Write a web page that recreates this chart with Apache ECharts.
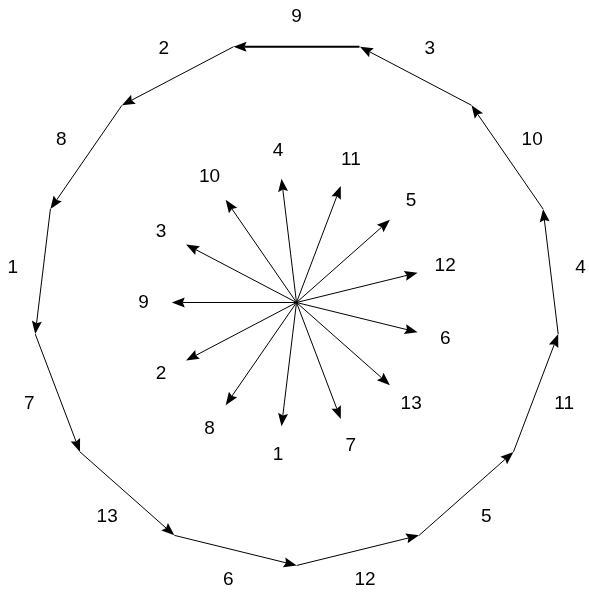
<!DOCTYPE html>
<html>
<head>
<meta charset="utf-8">
<script src="https://cdn.jsdelivr.net/npm/echarts@6/dist/echarts.min.js"></script>
<style>
html,body{margin:0;padding:0;background:#fff;}
#chart{width:589px;height:593px;}
</style>
</head>
<body>
<div id="chart"></div>
<script>
// ---- data ----
// slot numbers and the direction of each slot vector (degrees, counter-clockwise from +x)
var slotNames  = ['1','2','3','4','5','6','7','8','9','10','11','12','13'];
var slotAngles = [-96.9, -152.3, 152.3, 96.9, 41.5, -13.8, -69.2, -124.6, 180, 124.6, 69.2, 13.8, -41.5];
var starLength = 0.99;            // length of each vector (units)
// order in which the vectors are chained to form the outer polygon
var polygonOrder = ['9','2','8','1','7','13','6','12','5','11','4','10','3'];
var polygonStart = [0.50, 2.03]; // top-right vertex of the polygon (units)
var edgeLength = 1.0;

// ---- layout constants ----
var W = 589, H = 593;
var CX = 296.5, CY = 302.5;   // pixel position of origin
var PX = 126;                 // pixels per unit
var starLabelR = 1.215;       // radial distance of star labels (units)
var edgeLabelOff = 0.24;      // outward offset of polygon labels (units)
var FONT = '19px "Liberation Sans", Arial, sans-serif';

function dir(name) {
  var a = slotAngles[slotNames.indexOf(name)] * Math.PI / 180;
  return [Math.cos(a), Math.sin(a)];
}

// star vectors
var starArrows = slotNames.map(function (n) {
  var d = dir(n);
  return { value: [0, 0, d[0] * starLength, d[1] * starLength], width: 1 };
});
var starLabels = slotNames.map(function (n) {
  var d = dir(n);
  return { value: [d[0] * starLabelR, d[1] * starLabelR], text: n };
});

// polygon edges
var polyArrows = [], polyLabels = [];
var p = polygonStart.slice();
polygonOrder.forEach(function (n) {
  var d = dir(n);
  var q = [p[0] + d[0] * edgeLength, p[1] + d[1] * edgeLength];
  polyArrows.push({ value: [p[0], p[1], q[0], q[1]], width: n === '9' ? 2 : 1 });
  var mx = (p[0] + q[0]) / 2, my = (p[1] + q[1]) / 2;
  // outward normal (polygon traversed counter-clockwise)
  polyLabels.push({ value: [mx + d[1] * edgeLabelOff, my - d[0] * edgeLabelOff], text: n });
  p = q;
});

function arrowRender(params, api) {
  var a = api.coord([api.value(0), api.value(1)]);
  var b = api.coord([api.value(2), api.value(3)]);
  var item = params.dataIndex;
  var lw = this_widths[params.seriesIndex][item];
  var dx = b[0] - a[0], dy = b[1] - a[1];
  var len = Math.sqrt(dx * dx + dy * dy);
  var ux = dx / len, uy = dy / len;
  var hl = 13, hw = 5, notch = 2;
  var bx = b[0] - ux * hl, by = b[1] - uy * hl;
  var nx = -uy, ny = ux;
  var lineEnd = [b[0] - ux * (hl - notch), b[1] - uy * (hl - notch)];
  return {
    type: 'group',
    children: [
      { type: 'line', shape: { x1: a[0], y1: a[1], x2: lineEnd[0], y2: lineEnd[1] },
        style: { stroke: '#000', lineWidth: lw } },
      { type: 'polygon', shape: { points: [
          [b[0], b[1]],
          [bx + nx * hw, by + ny * hw],
          [b[0] - ux * (hl - notch), b[1] - uy * (hl - notch)],
          [bx - nx * hw, by - ny * hw]
        ] }, style: { fill: '#000' } }
    ]
  };
}
var this_widths = [
  starArrows.map(function (d) { return d.width; }),
  polyArrows.map(function (d) { return d.width; })
];

function labelRender(labels) {
  return function (params, api) {
    var c = api.coord([api.value(0), api.value(1)]);
    return { type: 'text', style: { text: labels[params.dataIndex].text, x: c[0], y: c[1],
      align: 'center', verticalAlign: 'middle', font: FONT, fill: '#000' } };
  };
}

var chart = echarts.init(document.getElementById('chart'), null, { renderer: 'canvas' });
chart.setOption({
  backgroundColor: '#fff',
  animation: false,
  grid: { left: 0, right: 0, top: 0, bottom: 0 },
  xAxis: { type: 'value', min: -CX / PX, max: (W - CX) / PX, show: false },
  yAxis: { type: 'value', min: -(H - CY) / PX, max: CY / PX, show: false },
  series: [
    { type: 'custom', renderItem: arrowRender, data: starArrows.map(function (d) { return d.value; }), silent: true },
    { type: 'custom', renderItem: arrowRender, data: polyArrows.map(function (d) { return d.value; }), silent: true },
    { type: 'custom', renderItem: labelRender(starLabels), data: starLabels.map(function (d) { return d.value; }), silent: true },
    { type: 'custom', renderItem: labelRender(polyLabels), data: polyLabels.map(function (d) { return d.value; }), silent: true }
  ]
});
</script>
</body>
</html>
